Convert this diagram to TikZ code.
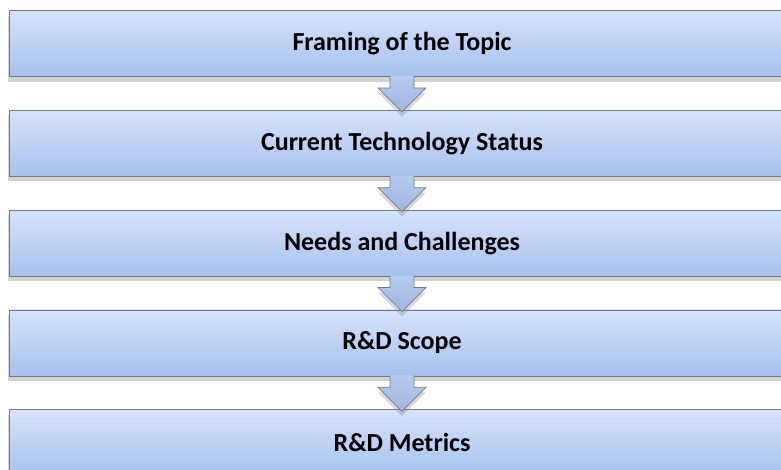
\documentclass[tikz,border=0pt]{standalone}
\usepackage{fontspec}
\setmainfont{Carlito}
\usetikzlibrary{positioning,shadows,calc}

\definecolor{stagetop}{RGB}{214,227,250}
\definecolor{stagebot}{RGB}{166,192,237}
\definecolor{stageline}{RGB}{120,124,130}

\tikzset{
        stage/.style={draw=stageline, line width=0.8pt, top color=stagetop, bottom color=stagebot,
                minimum width=786pt, minimum height=66pt, inner sep=0pt,
                font=\fontsize{26}{31}\selectfont\bfseries,
                drop shadow={shadow xshift=-1pt, shadow yshift=-5pt, opacity=0.35}},
        flow/.style={draw=stageline, line width=0.7pt, top color=stagebot!70!stagetop, bottom color=stagebot!95!black,
                drop shadow={shadow xshift=0pt, shadow yshift=-5pt, opacity=0.3}}
}

% block arrow from the bottom of one stage to the top of the next
\newcommand{\flowarrow}[2]{%
        \path[flow] ($(#1.south)+(-12,1)$) -- ($(#1.south)+(-12,-11)$) -- ($(#1.south)+(-24,-11)$)
                -- ($(#2.north)+(0,-2)$)
                -- ($(#1.south)+(24,-11)$) -- ($(#1.south)+(12,-11)$) -- ($(#1.south)+(12,1)$);
}

\begin{document}
\begin{tikzpicture}[x=1pt, y=1pt]
        \useasboundingbox (0, 0) rectangle (781, -469);
        \clip (0, 0) rectangle (781, -469);
        \node[stage] (topic) at (402, -43.5) {Framing of the Topic};
        \node[stage, below=33pt of topic] (status) {Current Technology Status};
        \node[stage, below=33pt of status] (needs) {Needs and Challenges};
        \node[stage, below=33pt of needs] (scope) {R\&D Scope};
        \node[stage, below=33pt of scope] (metrics) {R\&D Metrics};
        \foreach \a/\b in {topic/status, status/needs, needs/scope, scope/metrics}
                \flowarrow{\a}{\b};
\end{tikzpicture}
\end{document}
